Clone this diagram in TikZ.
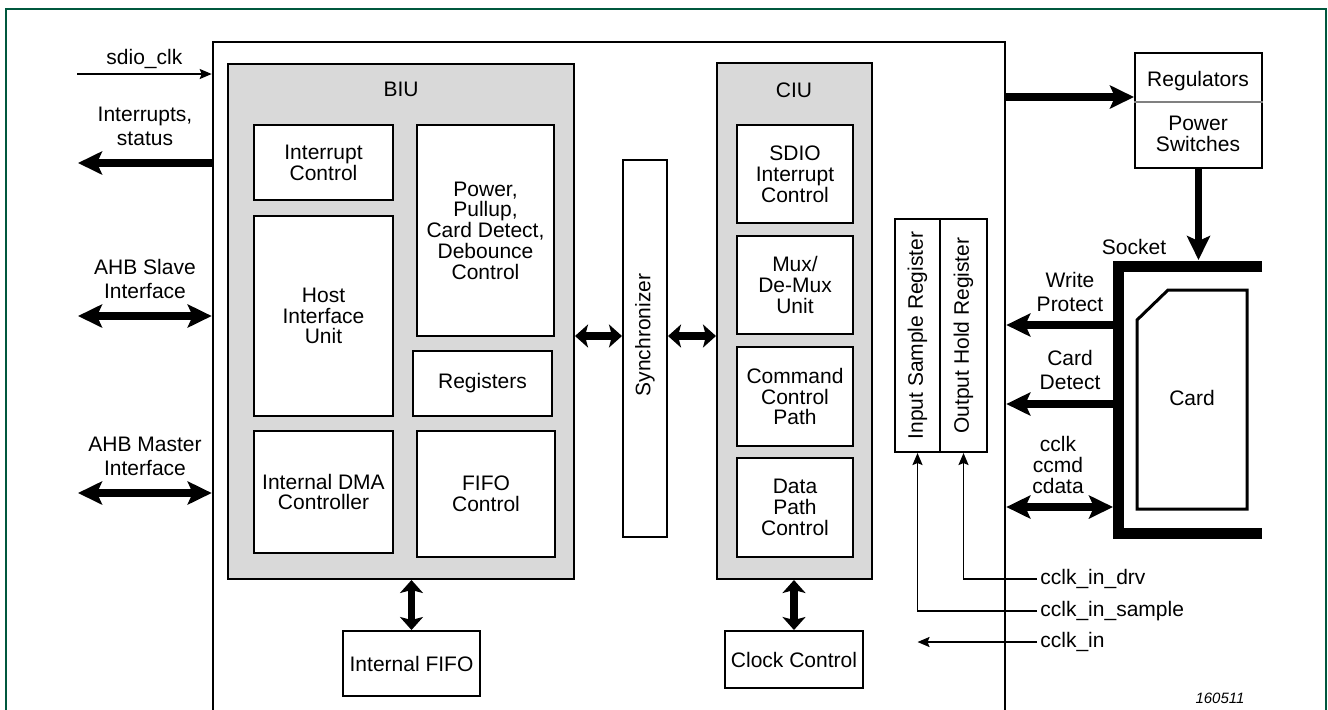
\documentclass[tikz,border=0pt]{standalone}
\usepackage{fontspec}
\setmainfont{Liberation Sans}
\usetikzlibrary{arrows.meta,positioning,fit}
\definecolor{framegreen}{RGB}{0,88,62}
\definecolor{unitgray}{RGB}{217,217,217}

\begin{document}
\begin{tikzpicture}[
  x=0.5pt, y=-0.5pt,
  font=\fontsize{10.5}{10.4}\selectfont,
  box/.style={draw, line width=1pt, fill=white, inner sep=0pt, align=center},
  dims/.style 2 args={minimum width=#1, minimum height=#2},
  unit/.style={draw, line width=1pt, fill=unitgray, inner sep=0pt},
  mainbox/.style={draw, line width=1.3pt, inner sep=0pt},
  lbl/.style={align=center, inner sep=1pt, font=\fontsize{10.5}{12}\selectfont},
  sig/.style={-{Stealth[length=6pt, width=5pt, inset=1pt]}, line width=0.9pt},
  bus/.style={-{Stealth[length=12pt, width=11.5pt, inset=2.5pt]}, line width=3.6pt},
  dbus/.style={{Stealth[length=12pt, width=11.5pt, inset=2.5pt]}-{Stealth[length=12pt, width=11.5pt, inset=2.5pt]}, line width=3.6pt},
  dbusshort/.style={{Stealth[length=6.5pt, width=11.5pt, inset=1.5pt]}-{Stealth[length=6.5pt, width=11.5pt, inset=1.5pt]}, line width=3.6pt}
]
\useasboundingbox (0,0) rectangle (1328,709);
\clip (0,0) rectangle (1328,709);

% frame and controller outline
\node[draw=framegreen, line width=0.6pt, inner sep=0pt, fit={(6,9) (1326,780)}] (page) {};
\node[mainbox, fit={(213,42) (1005,780)}] (ctrl) {};

% BIU
\node[unit, fit={(228,64) (574,579)}] (biu) {};
\node (biulbl) at (401,89) {BIU};
\node[box, dims={69.5pt}{37.5pt}] (intctl) at (323.5,162.5) {Interrupt\\Control};
\node[box, dims={68.5pt}{105.5pt}] (pwr) at (485.5,230.5) {Power,\\Pullup,\\Card Detect,\\Debounce\\Control};
\node[box, dims={69.5pt}{100pt}] (hiu) at (323.5,316) {Host\\Interface\\Unit};
\node[box, dims={69.5pt}{32.5pt}] (regs) at (482.5,383.5) {Registers};
\node[box, dims={69.5pt}{61pt}] (dma) at (323.5,492) {Internal DMA\\Controller};
\node[box, dims={69pt}{63pt}] (fifoctl) at (486,494) {FIFO\\Control};
\node[box, dims={68.5pt}{32.5pt}] (ififo) at (411.5,663.5) {Internal FIFO};

% synchronizer
\node[box, fit={(623,160) (667,537)}] (sync) {};
\node[rotate=90] (synclbl) at (645,335) {Synchronizer};

% CIU
\node[unit, fit={(717,63) (872,579)}] (ciu) {};
\node (ciulbl) at (794,90) {CIU};
\node[box, dims={58pt}{49pt}] (sdioint) at (795,174) {SDIO\\Interrupt\\Control};
\node[box, dims={58pt}{49pt}] (mux) at (795,285) {Mux/\\De-Mux\\Unit};
\node[box, dims={58pt}{49.5pt}] (cmd) at (795,396.5) {Command\\Control\\Path};
\node[box, dims={58pt}{49.5pt}] (dpath) at (795,507.5) {Data\\Path\\Control};
\node[box, dims={69pt}{28.5pt}] (clkctl) at (794,659.5) {Clock Control};

% sample / hold registers
\node[box, fit={(895,219) (940,452)}] (isr) {};
\node[box, fit={(940,219) (987,452)}] (ohr) {};
\node[rotate=90] (isrlbl) at (isr.center) {Input Sample Register};
\node[rotate=90] (ohrlbl) at (ohr.center) {Output Hold Register};

% regulators
\node[box, fit={(1135,53) (1262,168)}] (reg) {};
\draw[gray, line width=0.6pt] (reg.west |- 0,102) -- (reg.east |- 0,102);
\node (reglbl) at (1198,81) {Regulators};
\node[align=center] (pswlbl) at (1198,134) {Power\\Switches};

% socket and card
\draw[line width=5.5pt] (1262,266) -- (1118,266) -- (1118,533) -- (1262,533);
\node (socklbl) at (1134,247) {Socket};
\coordinate (sockin) at (1199,260);
\draw[line width=1.5pt] (1168,290) -- (1247,290) -- (1247,509) -- (1137,509) -- (1137,320) -- cycle;
\node (cardlbl) at (1192,398) {Card};

% host side signals
\coordinate (sdioin) at (77,74);
\draw[sig] (sdioin) -- node[above, inner sep=2pt] (sdiolbl) {sdio\_clk} (sdioin -| ctrl.west);
\coordinate (intout) at (78,163);
\draw[bus] (ctrl.west |- intout) -- (intout);
\node[lbl] (intlbl) at (145,126) {Interrupts,\\status};
\coordinate (slvout) at (78,316);
\draw[dbus] (slvout) -- (slvout -| ctrl.west);
\node[lbl] (slvlbl) at (145,279) {AHB Slave\\Interface};
\coordinate (mstout) at (78,493);
\draw[dbus] (mstout) -- (mstout -| ctrl.west);
\node[lbl] (mstlbl) at (145,456) {AHB Master\\Interface};

% internal buses
\draw[dbusshort] (biu.east |- 0,336) -- (sync.west |- 0,336);
\draw[dbusshort] (sync.east |- 0,336) -- (ciu.west |- 0,336);
\draw[dbusshort] (biu.south -| ififo.north) -- (ififo.north);
\draw[dbusshort] (ciu.south -| clkctl.north) -- (clkctl.north);

% card side signals
\draw[bus] (ctrl.east |- 0,97) -- (reg.west |- 0,97);
\draw[bus] (reg.south) -- (reg.south |- sockin);
\coordinate (wpsrc) at (1113,325);
\draw[bus] (wpsrc) -- (wpsrc -| ctrl.east);
\node[lbl] (wplbl) at (1070,292) {Write\\Protect};
\coordinate (cdsrc) at (1113,404);
\draw[bus] (cdsrc) -- (cdsrc -| ctrl.east);
\node[lbl] (cdlbl) at (1070,370) {Card\\Detect};
\coordinate (cdat) at (1113,507);
\draw[dbus] (cdat) -- (cdat -| ctrl.east);
\node[align=center] (cdatlbl) at (1058,465) {cclk\\ccmd\\cdata};

% clock inputs
\node[anchor=west, inner sep=1.5pt] (drv) at (1037,579) {cclk\_in\_drv};
\node[anchor=west, inner sep=1.5pt] (smp) at (1037,611) {cclk\_in\_sample};
\node[anchor=west, inner sep=1.5pt] (cin) at (1037,642) {cclk\_in};
\draw[sig] (drv.west) -| (ohr.south);
\draw[sig] (smp.west) -| (isr.south);
\draw[sig] (cin.west) -- (cin.west -| isr.south);

\node[font=\fontsize{7.5}{8}\selectfont\itshape] (fignum) at (1220,698) {160511};
\end{tikzpicture}
\end{document}
